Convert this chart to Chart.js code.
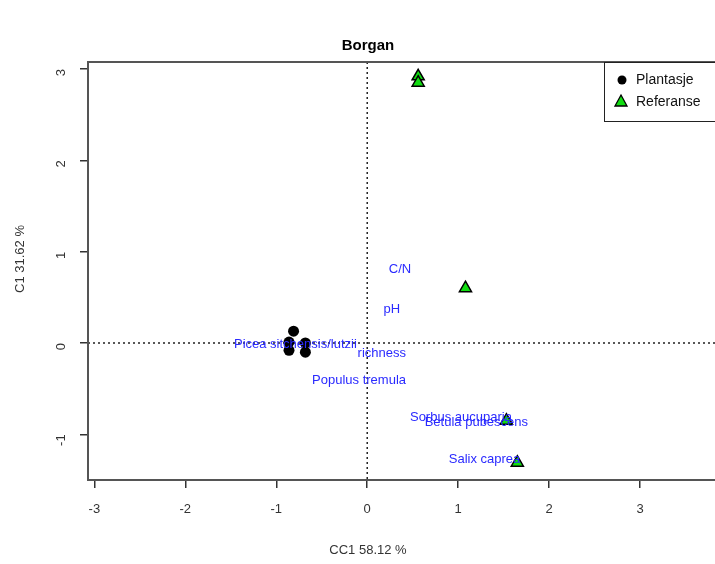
<!DOCTYPE html>
<html>
<head>
<meta charset="utf-8">
<script src="https://cdn.jsdelivr.net/npm/chart.js@4"></script>
<style>
  html, body { margin: 0; padding: 0; background: #fff; overflow: hidden; }
  #wrap { width: 725px; height: 564px; }
</style>
</head>
<body>
<div id="wrap"><canvas id="cca" width="725" height="564"></canvas></div>
<script>
// Punkter (site scores)
const plantasjeX = [-0.81, -0.86, -0.68, -0.86, -0.68];
const plantasjeY = [0.13, 0.01, 0.00, -0.08, -0.10];
const referanseX = [0.56, 0.56, 1.08, 1.53, 1.65];
const referanseY = [2.92, 2.85, 0.60, -0.85, -1.31];

// Arter og miljøvariabler (tekst)
const labelNames = ["C/N", "pH", "Picea sitchensis/lutzii", "richness", "Populus tremula",
                    "Sorbus aucuparia", "Betula pubescens", "Salix caprea"];
const labelX = [0.36, 0.27, -0.79, 0.16, -0.09, 1.03, 1.20, 1.29];
const labelY = [0.81, 0.37, -0.01, -0.11, -0.405, -0.82, -0.875, -1.28];

const xTicks = [-3, -2, -1, 0, 1, 2, 3];
const yTicks = [-1, 0, 1, 2, 3];

const toPoints = (xs, ys) => xs.map((x, i) => ({ x: x, y: ys[i] }));

// Tegner boks, nullinjer, tekst og legende
const extras = {
  id: "extras",
  beforeDatasetsDraw(chart) {
    const { ctx, chartArea: a, scales: { x, y } } = chart;
    ctx.save();
    ctx.strokeStyle = "#222";
    ctx.lineWidth = 1.5;
    ctx.setLineDash([2, 3]);
    const x0 = x.getPixelForValue(0), y0 = y.getPixelForValue(0);
    ctx.beginPath();
    ctx.moveTo(x0, a.top); ctx.lineTo(x0, a.bottom);
    ctx.moveTo(a.left, y0); ctx.lineTo(a.right, y0);
    ctx.stroke();
    ctx.restore();
  },
  afterDatasetsDraw(chart) {
    const { ctx, chartArea: a, scales: { x, y } } = chart;
    ctx.save();
    ctx.fillStyle = "#2a2aff";
    ctx.font = "13px 'Liberation Sans', Arial, sans-serif";
    ctx.textAlign = "center";
    ctx.textBaseline = "middle";
    labelNames.forEach((n, i) => {
      ctx.fillText(n, x.getPixelForValue(labelX[i]), y.getPixelForValue(labelY[i]));
    });

    // boks
    ctx.strokeStyle = "#555";
    ctx.lineWidth = 2;
    ctx.strokeRect(a.left, a.top, a.right - a.left, a.bottom - a.top);

    // tittel og aksetitler
    ctx.fillStyle = "#000";
    ctx.font = "bold 15px 'Liberation Sans', Arial, sans-serif";
    ctx.fillText("Borgan", 368, 46);
    ctx.fillStyle = "#333";
    ctx.font = "13px 'Liberation Sans', Arial, sans-serif";
    ctx.fillText("CC1 58.12 %", 368, 550);
    ctx.save();
    ctx.translate(20, 259);
    ctx.rotate(-Math.PI / 2);
    ctx.fillText("C1 31.62 %", 0, 0);
    ctx.restore();

    // legende
    ctx.fillStyle = "#fff";
    ctx.fillRect(604, 62, 130, 59);
    ctx.strokeStyle = "#222";
    ctx.lineWidth = 1;
    ctx.strokeRect(604.5, 62.5, 130, 59);
    ctx.fillStyle = "#000";
    ctx.beginPath();
    ctx.arc(622, 80, 4.5, 0, Math.PI * 2);
    ctx.fill();
    ctx.beginPath();
    ctx.moveTo(621, 95); ctx.lineTo(627, 106); ctx.lineTo(615, 106); ctx.closePath();
    ctx.fillStyle = "#11dd11";
    ctx.fill();
    ctx.strokeStyle = "#000";
    ctx.lineWidth = 1.3;
    ctx.stroke();
    ctx.fillStyle = "#111";
    ctx.font = "14px 'Liberation Sans', Arial, sans-serif";
    ctx.textAlign = "left";
    ctx.fillText("Plantasje", 636, 80);
    ctx.fillText("Referanse", 636, 102);
    ctx.restore();
  }
};

new Chart(document.getElementById("cca"), {
  type: "scatter",
  data: {
    datasets: [
      {
        label: "Plantasje",
        data: toPoints(plantasjeX, plantasjeY),
        pointStyle: "circle",
        pointRadius: 5.5,
        backgroundColor: "#000",
        borderColor: "#000",
        borderWidth: 0
      },
      {
        label: "Referanse",
        data: toPoints(referanseX, referanseY),
        pointStyle: "triangle",
        pointRadius: 7,
        backgroundColor: "#11dd11",
        borderColor: "#000",
        borderWidth: 1.5
      }
    ]
  },
  options: {
    responsive: false,
    animation: false,
    layout: { padding: { top: 62, right: 5, left: 0, bottom: 0 } },
    plugins: {
      legend: { display: false },
      title: { display: false },
      tooltip: { enabled: false }
    },
    scales: {
      x: {
        type: "linear",
        min: -3.07,
        max: 3.84,
        afterBuildTicks: s => { s.ticks = xTicks.map(v => ({ value: v })); },
        afterFit: s => { s.height = 84; },
        grid: { display: true, drawOnChartArea: false, drawTicks: true, tickLength: 8, color: "#333", lineWidth: 1.5 },
        border: { display: false },
        ticks: { color: "#333", font: { size: 13, family: "'Liberation Sans', Arial, sans-serif" }, padding: 14, maxRotation: 0 }
      },
      y: {
        type: "linear",
        min: -1.5,
        max: 3.077,
        afterBuildTicks: s => { s.ticks = yTicks.map(v => ({ value: v })); },
        afterFit: s => { s.width = 88; },
        grid: { display: true, drawOnChartArea: false, drawTicks: true, tickLength: 8, color: "#333", lineWidth: 1.5 },
        border: { display: false },
        ticks: { color: "#333", font: { size: 13, family: "'Liberation Sans', Arial, sans-serif" }, padding: 19, minRotation: 90, maxRotation: 90 }
      }
    }
  },
  plugins: [extras]
});
</script>
</body>
</html>
